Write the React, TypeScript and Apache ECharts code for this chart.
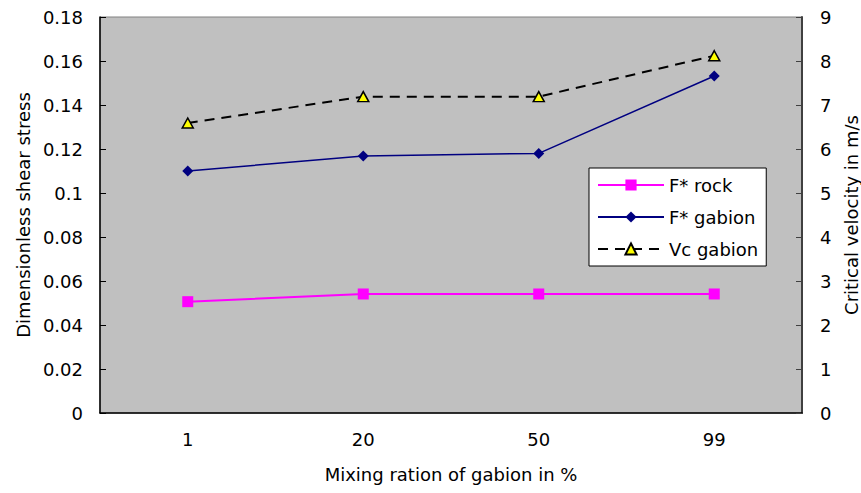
import React, { useEffect, useRef } from "react";
import * as echarts from "echarts";

const categories = ["1", "20", "50", "99"];
const rockValues = [0.0506, 0.0541, 0.0541, 0.0541];
const gabionValues = [0.11, 0.1168, 0.118, 0.1532];
const vcValues = [6.59, 7.19, 7.19, 8.12];

const FONT = "DejaVu Sans";

export default function App() {
  const ref = useRef<HTMLDivElement>(null);
  useEffect(() => {
    if (!ref.current) return;
    const chart = echarts.init(ref.current, null, { renderer: "svg" });
    chart.setOption({
      animation: false,
      backgroundColor: "#ffffff",
      textStyle: { fontFamily: FONT, color: "#000" },
      grid: {
        left: 100,
        right: 59,
        top: 17,
        bottom: 80,
        show: true,
        backgroundColor: "#c0c0c0",
        borderColor: "#808080",
        borderWidth: 1,
        outerBoundsMode: "none",
        containLabel: false,
      },
      legend: {
        orient: "vertical",
        left: 589,
        top: 168,
        padding: [8, 8, 8, 8],
        itemWidth: 66,
        itemHeight: 14,
        itemGap: 14,
        backgroundColor: "#ffffff",
        borderColor: "#000000",
        borderWidth: 1,
        textStyle: { fontFamily: FONT, fontSize: 18, color: "#000" },
        data: ["F* rock", "F* gabion", "Vc gabion"],
      },
      xAxis: {
        type: "category",
        data: categories,
        boundaryGap: true,
        name: "Mixing ration of gabion in %",
        nameLocation: "middle",
        nameGap: 52,
        nameTextStyle: { fontFamily: FONT, fontSize: 18, color: "#000" },
        axisLine: { lineStyle: { color: "#000", width: 1.5 } },
        axisTick: { inside: true, length: 6, lineStyle: { color: "#000" } },
        axisLabel: { margin: 17, fontFamily: FONT, fontSize: 18, color: "#000" },
        splitLine: { show: false },
      },
      yAxis: [
        {
          type: "value",
          min: 0,
          max: 0.18,
          interval: 0.02,
          name: "Dimensionless shear stress",
          nameLocation: "middle",
          nameGap: 62,
          nameTextStyle: { fontFamily: FONT, fontSize: 18, color: "#000" },
          axisLine: { show: true, lineStyle: { color: "#000", width: 1.5 } },
          axisTick: { show: true, inside: true, length: 6, lineStyle: { color: "#000" } },
          axisLabel: {
            margin: 17,
            fontFamily: FONT,
            fontSize: 18,
            color: "#000",
            formatter: (v: number) => String(parseFloat(v.toFixed(2))),
          },
          splitLine: { show: false },
        },
        {
          type: "value",
          min: 0,
          max: 9,
          interval: 1,
          position: "right",
          name: "Critical velocity in m/s",
          nameLocation: "middle",
          nameGap: 38,
          nameTextStyle: { fontFamily: FONT, fontSize: 18, color: "#000" },
          axisLine: { show: true, lineStyle: { color: "#404040", width: 2 } },
          axisTick: { show: true, inside: true, length: 6, lineStyle: { color: "#404040" } },
          axisLabel: { margin: 18, fontFamily: FONT, fontSize: 18, color: "#000" },
          splitLine: { show: false },
        },
      ],
      series: [
        {
          name: "F* rock",
          type: "line",
          yAxisIndex: 0,
          data: rockValues,
          symbol: "rect",
          symbolSize: 11,
          lineStyle: { color: "#ff00ff", width: 2 },
          itemStyle: { color: "#ff00ff", borderColor: "#ff00ff", borderWidth: 0 },
        },
        {
          name: "F* gabion",
          type: "line",
          yAxisIndex: 0,
          data: gabionValues,
          symbol: "diamond",
          symbolSize: [11, 11],
          lineStyle: { color: "#000080", width: 1.5 },
          itemStyle: { color: "#000080", borderColor: "#000080", borderWidth: 0 },
        },
        {
          name: "Vc gabion",
          type: "line",
          yAxisIndex: 1,
          data: vcValues,
          symbol: "triangle",
          symbolSize: [11, 10],
          lineStyle: { color: "#000000", width: 2, type: [10, 7] },
          itemStyle: { color: "#ffff00", borderColor: "#000000", borderWidth: 1.5 },
        },
      ],
    });
    return () => chart.dispose();
  }, []);
  return <div ref={ref} style={{ width: 861, height: 493, position: "absolute", left: 0, top: 0 }} />;
}
